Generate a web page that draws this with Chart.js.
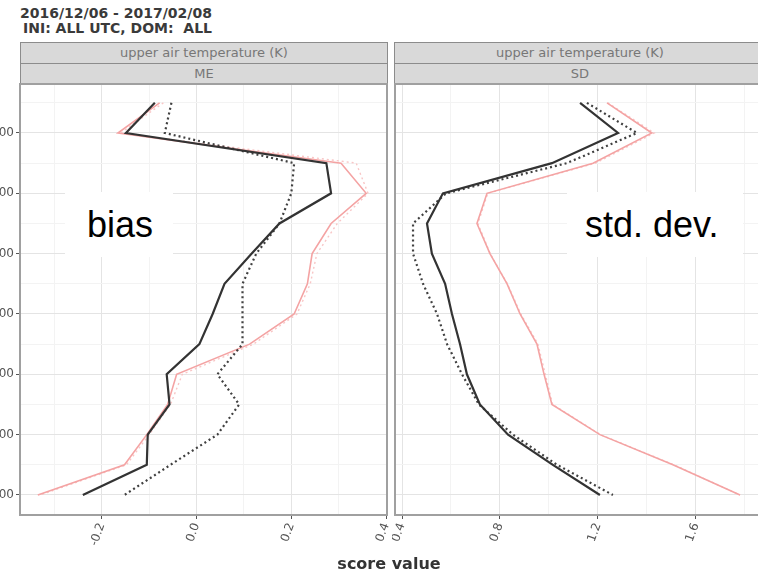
<!DOCTYPE html>
<html>
<head>
<meta charset="utf-8">
<script src="https://cdn.jsdelivr.net/npm/chart.js@4.4.1/dist/chart.umd.min.js"></script>
<style>
  html, body { margin: 0; padding: 0; background: #fff; }
  body { width: 758px; height: 573px; overflow: hidden; position: relative; font-family: "DejaVu Sans", sans-serif; }
  .abs { position: absolute; }
  canvas { position: absolute; }
  .title { font-weight: bold; font-size: 14px; line-height: 14px; color: #3a3a3a; white-space: pre; }
  .strip { position: absolute; box-sizing: border-box; background: #d9d9d9; border: 1px solid #8c8c8c;
           font-size: 13px; color: #777; text-align: center; line-height: 19px; white-space: pre; }
  .box { position: absolute; background: #fff; }
  .lbl { position: absolute; font-family: "Liberation Sans", Arial, sans-serif; font-size: 36px; line-height: 36px; color: #000; white-space: pre; }
</style>
</head>
<body>
<div class="abs title" style="left:20px; top:6px;">2016/12/06 - 2017/02/08</div>
<div class="abs title" style="left:23px; top:21px;">INI: ALL UTC, DOM:  ALL</div>

<div class="strip" style="left:20px; top:42px; width:368px; height:22px;">upper air temperature (K)</div>
<div class="strip" style="left:20px; top:63px; width:368px; height:22px;">ME</div>
<div class="strip" style="left:394px; top:42px; width:372px; height:22px;">upper air temperature (K)</div>
<div class="strip" style="left:394px; top:63px; width:372px; height:22px;">SD</div>

<canvas id="cME" width="402" height="480" style="left:-12px; top:80px;"></canvas>
<canvas id="cSD" width="380" height="480" style="left:392px; top:80px;"></canvas>

<div class="box" style="left:65px; top:192px; width:108px; height:65px;"></div>
<div class="lbl" style="left:87px; top:207px;">bias</div>
<div class="box" style="left:567px; top:192px; width:176px; height:65px;"></div>
<div class="lbl" style="left:585px; top:207px;">std. dev.</div>

<div class="abs" style="left:289px; width:200px; top:554px; text-align:center; font-weight:bold; font-size:16px; color:#333;">score value</div>

<script>
// ---- data ----
const levels = [350, 400, 450, 500, 550, 600, 650, 700, 750, 800, 850, 900, 950, 1000];
const yMajorTicks = [400, 500, 600, 700, 800, 900, 1000];
const yAllTicks = [350, 400, 450, 500, 550, 600, 650, 700, 750, 800, 850, 900, 950, 1000];

// bias (ME)
const meBlackSolid = [-0.088, -0.149, 0.274, 0.284, 0.175, 0.116, 0.059, 0.034, 0.006, -0.063, -0.057, -0.103, -0.105, -0.240];
const meBlackDot   = [-0.053, -0.067, 0.206, 0.200, 0.175, 0.126, 0.097, 0.097, 0.097, 0.044, 0.090, 0.044, -0.055, -0.152];
const meRedSolid   = [-0.078, -0.166, 0.305, 0.358, 0.284, 0.244, 0.234, 0.206, 0.112, -0.042, -0.061, -0.105, -0.152, -0.335];
const meRedDot     = [-0.070, -0.160, 0.337, 0.362, 0.297, 0.254, 0.240, 0.212, 0.120, -0.030, -0.055, -0.100, -0.148, -0.330];

// std. dev. (SD)
const sdBlackSolid = [1.127, 1.282, 1.012, 0.567, 0.502, 0.522, 0.576, 0.604, 0.637, 0.665, 0.718, 0.833, 1.016, 1.208];
const sdBlackDot   = [1.155, 1.359, 1.073, 0.580, 0.445, 0.445, 0.486, 0.543, 0.584, 0.645, 0.714, 0.853, 1.033, 1.261];
const sdRedSolid   = [1.237, 1.420, 1.180, 0.747, 0.706, 0.759, 0.829, 0.882, 0.951, 0.980, 1.012, 1.208, 1.506, 1.780];
const sdRedDot     = [1.240, 1.430, 1.190, 0.750, 0.710, 0.760, 0.830, 0.885, 0.955, 0.985, 1.015, 1.210, 1.510, 1.780];

const meXAll = [-0.3, -0.2, -0.1, 0.0, 0.1, 0.2, 0.3, 0.4];
const meXMajor = [-0.2, 0.0, 0.2, 0.4];
const sdXAll = [0.4, 0.6, 0.8, 1.0, 1.2, 1.4, 1.6, 1.8];
const sdXMajor = [0.4, 0.8, 1.2, 1.6];

// ---- helpers ----
const pts = (xs) => xs.map((x, i) => ({ x: x, y: levels[i] }));
const isIn = (v, arr) => arr.some(a => Math.abs(a - v) < 1e-6);

function datasets(bs, bd, rs, rd) {
  return [
    { data: pts(bs), borderColor: '#333333', borderWidth: 2.2, showLine: true, pointRadius: 0, tension: 0 },
    { data: pts(bd), borderColor: '#404040', borderWidth: 2.2, borderDash: [2, 3], showLine: true, pointRadius: 0, tension: 0 },
    { data: pts(rs), borderColor: '#f4a3a3', borderWidth: 1.6, showLine: true, pointRadius: 0, tension: 0 },
    { data: pts(rd), borderColor: '#f8c6c6', borderWidth: 1.4, borderDash: [2, 3], showLine: true, pointRadius: 0, tension: 0 }
  ];
}

const borderPlugin = {
  id: 'panelBorder',
  afterDraw(chart) {
    const a = chart.chartArea, c = chart.ctx;
    c.save();
    c.strokeStyle = '#a0a0a0';
    c.lineWidth = 2;
    c.strokeRect(a.left, a.top, a.right - a.left, a.bottom - a.top);
    c.restore();
  }
};

function makeChart(id, ds, xMin, xMax, xAll, xMajor, showY, padding) {
  return new Chart(document.getElementById(id), {
    type: 'scatter',
    data: { datasets: ds },
    plugins: [borderPlugin],
    options: {
      responsive: false,
      animation: false,
      devicePixelRatio: 1,
      layout: { padding: padding },
      plugins: { legend: { display: false }, tooltip: { enabled: false } },
      scales: {
        x: {
          type: 'linear', min: xMin, max: xMax,
          afterBuildTicks: (s) => { s.ticks = xAll.map(v => ({ value: v })); },
          afterFit: (s) => { s.height = 45; s.paddingLeft = 0; s.paddingRight = 0; },
          border: { display: false },
          grid: {
            color: (ctx) => (ctx.tick && isIn(ctx.tick.value, xMajor)) ? '#e4e4e4' : '#f3f3f3',
            lineWidth: 1,
            drawTicks: true, tickLength: 4,
            tickColor: (ctx) => (ctx.tick && isIn(ctx.tick.value, xMajor)) ? '#555555' : 'rgba(0,0,0,0)'
          },
          ticks: {
            autoSkip: false, minRotation: 70, maxRotation: 70, padding: 2,
            color: '#555555', font: { family: 'DejaVu Sans', size: 12 },
            callback: (v) => isIn(v, xMajor) ? Number(v).toFixed(1) : ''
          }
        },
        y: {
          type: 'linear', reverse: true, min: 318.8, max: 1033.2,
          afterBuildTicks: (s) => { s.ticks = yAllTicks.map(v => ({ value: v })); },
          afterFit: (s) => { s.width = showY ? 32 : 0; s.paddingTop = 0; s.paddingBottom = 0; },
          border: { display: false },
          grid: {
            color: (ctx) => (ctx.tick && isIn(ctx.tick.value, yMajorTicks)) ? '#e4e4e4' : '#f3f3f3',
            lineWidth: 1,
            drawTicks: showY, tickLength: 4,
            tickColor: (ctx) => (ctx.tick && isIn(ctx.tick.value, yMajorTicks)) ? '#555555' : 'rgba(0,0,0,0)'
          },
          ticks: {
            display: showY, autoSkip: false, padding: 2,
            color: '#555555', font: { family: 'DejaVu Sans', size: 12 },
            callback: (v) => isIn(v, yMajorTicks) ? String(v) : ''
          }
        }
      }
    }
  });
}

makeChart('cME', datasets(meBlackSolid, meBlackDot, meRedSolid, meRedDot),
  -0.3726, 0.402, meXAll, meXMajor, true, { left: 0, right: 3, top: 4, bottom: 0 });
makeChart('cSD', datasets(sdBlackSolid, sdBlackDot, sdRedSolid, sdRedDot),
  0.3714, 1.882, sdXAll, sdXMajor, false, { left: 3, right: 7, top: 4, bottom: 0 });
</script>
</body>
</html>
